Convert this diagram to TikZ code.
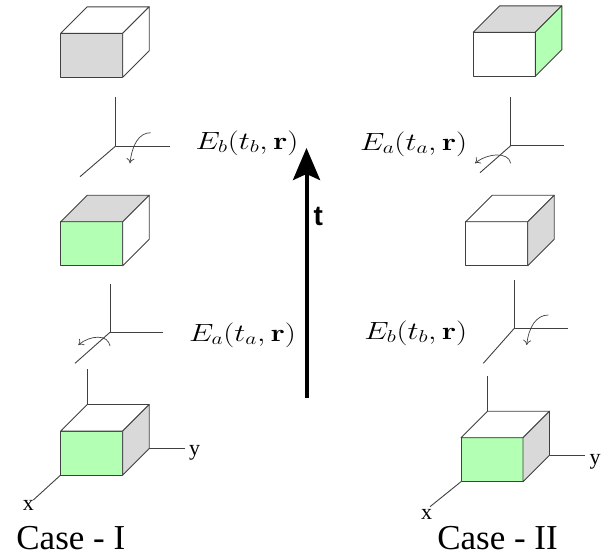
\documentclass[tikz,border=0pt]{standalone}
\usepackage[no-math]{fontspec}
\setmainfont{Liberation Serif}
\setsansfont{Liberation Sans}
\usetikzlibrary{arrows.meta,calc}

\definecolor{facegray}{RGB}{217,217,217}
\definecolor{facegreen}{RGB}{179,255,179}
\definecolor{edgegray}{RGB}{64,64,64}

\tikzset{
  cubeline/.style={draw=edgegray, line width=0.9pt, line join=round},
  axisline/.style={draw=edgegray, line width=0.9pt},
  spinarrow/.style={draw=edgegray, line width=0.7pt, -{To[length=5pt,width=8pt]}},
  timearrow/.style={line width=4pt, -{Stealth[length=32pt,width=27pt,inset=6pt]}},
  fieldlabel/.style={inner sep=0pt, font=\fontsize{24}{28}\selectfont},
  axislabel/.style={inner sep=0pt, font=\fontsize{22}{26}\selectfont},
  caselabel/.style={inner sep=0pt, anchor=base, font=\fontsize{35}{40}\selectfont},
}

% #1 name, #2 #3 front top-left corner, #4 front, #5 top, #6 side
\newcommand{\cubebox}[6]{%
  \coordinate (#1) at (#2,#3);
  \coordinate (#1-fbl) at ($(#1)+(0,44)$);
  \coordinate (#1-btl) at ($(#1)+(26.5,-26.5)$);
  \coordinate (#1-bbr) at ($(#1)+(88.5,17.5)$);
  \path[cubeline, fill=#4] (#1) rectangle ++(62,44);
  \path[cubeline, fill=#5] (#1) -- (#1-btl) -- ++(62,0) -- ++(-26.5,26.5) -- cycle;
  \path[cubeline, fill=#6] ($(#1)+(62,0)$) -- ++(26.5,-26.5) -- (#1-bbr) -- ++(-26.5,26.5) -- cycle;
}

\begin{document}
\begin{tikzpicture}[x=1pt,y=-1pt]
  \useasboundingbox (0,0) rectangle (611,557);

  % Case - I
  \cubebox{cubeLa}{60.7}{33.3}{facegray}{white}{white}
  \cubebox{cubeLb}{60.7}{221.7}{facegreen}{facegray}{white}
  \cubebox{cubeLc}{60.7}{431}{facegreen}{white}{facegray}

  \coordinate (oLa) at (115.7,146);
  \coordinate (zLa) at (115.7,97.3);
  \coordinate (yLa) at (170,146);
  \coordinate (xLa) at (80,176.7);
  \path[axisline] (oLa) edge (zLa) edge (yLa) edge (xLa);
  \coordinate (sLa) at (150.7,132.7);
  \coordinate (tLa) at (130,163.3);
  \draw[spinarrow] (sLa) .. controls +(-12,0) and +(2,-18) .. (tLa);

  \coordinate (oLb) at (110,332.3);
  \coordinate (zLb) at (110,284);
  \coordinate (yLb) at (163.3,332.3);
  \coordinate (xLb) at (75,363.3);
  \path[axisline] (oLb) edge (zLb) edge (yLb) edge (xLb);
  \coordinate (sLb) at (110,346);
  \coordinate (tLb) at (78.3,345);
  \draw[spinarrow] (sLb) .. controls +(-2,-12) and +(12,-10) .. (tLb);

  \coordinate (zLc) at (87.2,369);
  \coordinate (yLc) at (185,448.5);
  \coordinate (xLc) at (33.3,500);
  \path[axisline] (cubeLc-btl) edge (zLc) (cubeLc-bbr) edge (yLc) (cubeLc-fbl) edge (xLc);
  \node[axislabel] (ylabL) at (194.7,453.3) {y};
  \node[axislabel] (xlabL) at (28.3,505.3) {x};

  \node[fieldlabel] (fieldLa) at (247,143) {\scalebox{1.25}[1]{$E_b(t_b,\mathbf{r})$}};
  \node[fieldlabel] (fieldLb) at (242.5,335) {\scalebox{1.25}[1]{$E_a(t_a,\mathbf{r})$}};
  \node[caselabel] (caseI) at (70.8,549.3) {Case - I};

  % time
  \coordinate (tstart) at (306.5,398);
  \coordinate (tend) at (306.5,148);
  \draw[timearrow] (tstart) -- (tend);
  \node[inner sep=0pt, font=\sffamily\bfseries\fontsize{28}{32}\selectfont] (tlabel) at (318.2,216) {t};

  % Case - II
  \cubebox{cubeRa}{473.3}{32.3}{white}{facegray}{facegreen}
  \cubebox{cubeRb}{465.7}{221.7}{white}{white}{facegray}
  \cubebox{cubeRc}{461}{437.7}{facegreen}{white}{facegray}

  \coordinate (oRa) at (510.7,145.7);
  \coordinate (zRa) at (510.7,97.3);
  \coordinate (yRa) at (564.3,145.7);
  \coordinate (xRa) at (480,172.7);
  \path[axisline] (oRa) edge (zRa) edge (yRa) edge (xRa);
  \coordinate (sRa) at (510.7,163.3);
  \coordinate (tRa) at (475,163.3);
  \draw[spinarrow] (sRa) .. controls +(-2,-12) and +(12,-10) .. (tRa);

  \coordinate (oRb) at (514.3,328.3);
  \coordinate (zRb) at (514.3,280);
  \coordinate (yRb) at (567.7,328.3);
  \coordinate (xRb) at (483.3,363.3);
  \path[axisline] (oRb) edge (zRb) edge (yRb) edge (xRb);
  \coordinate (sRb) at (548.3,315);
  \coordinate (tRb) at (526.7,345);
  \draw[spinarrow] (sRb) .. controls +(-12,0) and +(2,-18) .. (tRb);

  \coordinate (zRc) at (487.5,376);
  \coordinate (yRc) at (585,455.2);
  \coordinate (xRc) at (430,506.7);
  \path[axisline] (cubeRc-btl) edge (zRc) (cubeRc-bbr) edge (yRc) (cubeRc-fbl) edge (xRc);
  \node[axislabel] (ylabR) at (595,461.7) {y};
  \node[axislabel] (xlabR) at (426.7,514) {x};

  \node[fieldlabel] (fieldRa) at (413.7,144) {\scalebox{1.25}[1]{$E_a(t_a,\mathbf{r})$}};
  \node[fieldlabel] (fieldRb) at (415.8,333) {\scalebox{1.25}[1]{$E_b(t_b,\mathbf{r})$}};
  \node[caselabel] (caseII) at (497.5,549.5) {Case - II};
\end{tikzpicture}
\end{document}
